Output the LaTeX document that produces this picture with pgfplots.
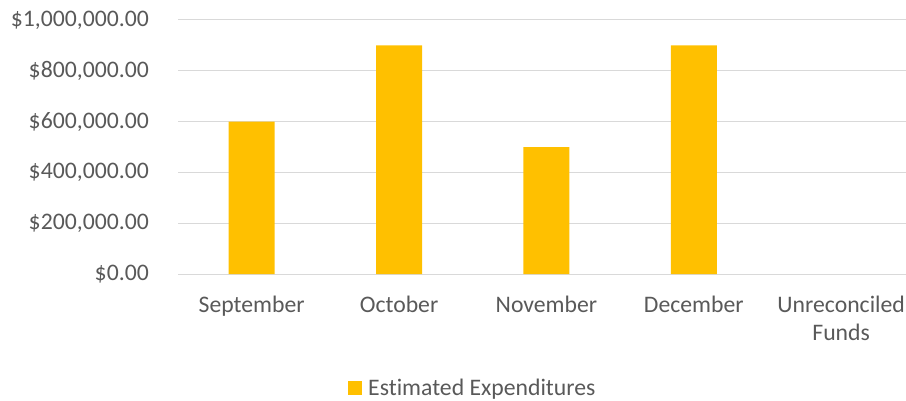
\documentclass[border=0pt]{standalone}
\usepackage{pgfplots}
\pgfplotsset{compat=1.18}
\usepackage{fontspec}
\setmainfont{Carlito}[Ligatures=NoCommon]
\definecolor{barc}{HTML}{FFC000}
\definecolor{gridc}{HTML}{D9D9D9}
\definecolor{txtc}{HTML}{595959}
\begin{document}
\begin{tikzpicture}[x=1bp,y=1bp]
\useasboundingbox (0,0) rectangle (906,400);
\begin{axis}[
  at={(178bp,126bp)}, anchor=south west,
  scale only axis, width=728bp, height=254bp,
  xmin=-0.5, xmax=4.44, ymin=0, ymax=1000000,
  ybar, bar width=46bp,
  axis line style={draw=none},
  major tick length=0pt,
  ymajorgrids, major grid style={draw=gridc, line width=1bp},
  scaled y ticks=false,
  ytick={0,200000,400000,600000,800000,1000000},
  yticklabels={\$0.00,\$200{,}000.00,\$400{,}000.00,\$600{,}000.00,\$800{,}000.00,\$1{,}000{,}000.00},
  xtick={0,1,2,3,4},
  xticklabels={September,October,November,December,{Unreconciled\\Funds}},
  every tick label/.append style={font=\fontsize{23.8}{28}\selectfont, text=txtc, inner sep=0pt},
  yticklabel style={anchor=east, xshift=-29bp},
  xticklabel style={align=center, anchor=north, yshift=-22bp},
  legend style={at={(0.405,-0.45)}, anchor=center, draw=none, fill=none,
    font=\fontsize{23.8}{28}\selectfont, text=txtc},
  legend image code/.code={\fill[barc] (-7bp,-7bp) rectangle (7bp,7bp);},
]
\addplot[fill=barc, draw=none] coordinates {(0,600000) (1,900000) (2,500000) (3,900000)};
\addlegendentry{\hspace{4bp}Estimated Expenditures}
\end{axis}
\end{tikzpicture}
\end{document}
